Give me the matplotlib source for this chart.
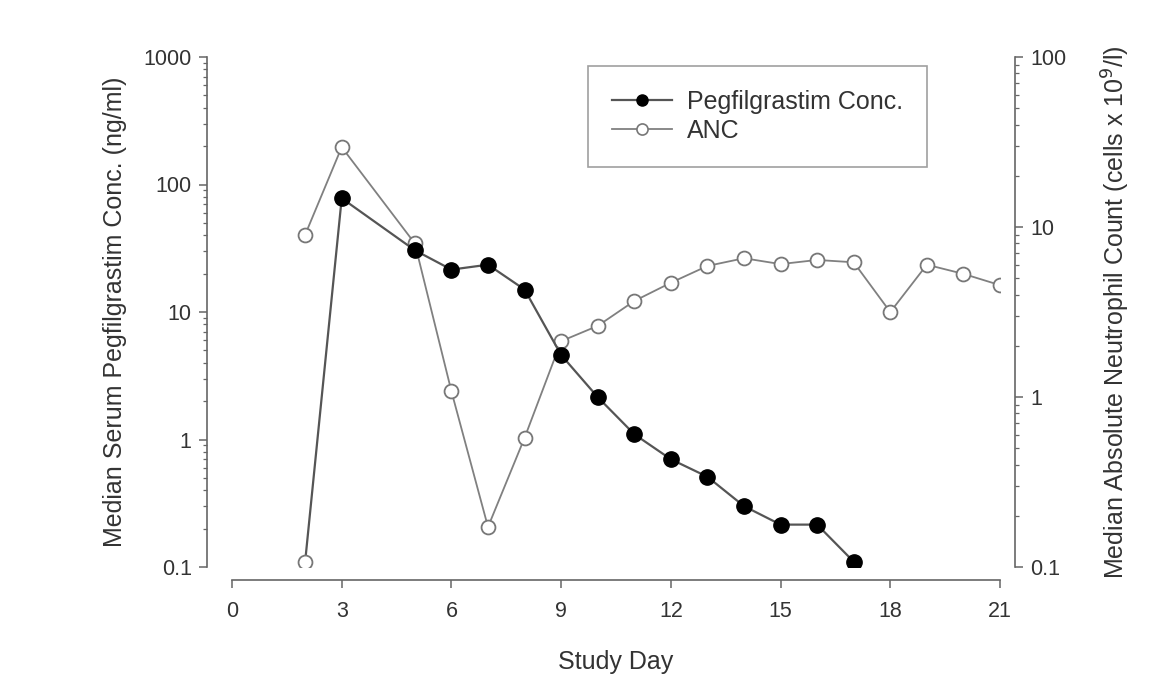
import numpy as np
import matplotlib.pyplot as plt
from matplotlib.ticker import LogLocator, NullFormatter, FixedLocator, FixedFormatter

plt.rcParams['font.family'] = ['Liberation Sans', 'DejaVu Sans']

# data
peg_days = [2, 3, 5, 6, 7, 8, 9, 10, 11, 12, 13, 14, 15, 16, 17]
peg_conc = [0.11, 78, 30.5, 21.5, 23.5, 15, 4.6, 2.15, 1.1, 0.70, 0.51, 0.30, 0.215, 0.215, 0.11]

anc_days = [2, 3, 5, 6, 7, 8, 9, 10, 11, 12, 13, 14, 15, 16, 17, 18, 19, 20, 21]
anc_vals = [9.0, 29.5, 8.0, 1.08, 0.172, 0.575, 2.13, 2.62, 3.67, 4.7, 5.9, 6.55, 6.05, 6.4, 6.2, 3.16, 6.0, 5.3, 4.55]

x_ticks = [0, 3, 6, 9, 12, 15, 18, 21]
left_ticks = [0.1, 1, 10, 100, 1000]
left_labels = ['0.1', '1', '10', '100', '1000']
right_ticks = [0.1, 1, 10, 100]
right_labels = ['0.1', '1', '10', '100']

txt = '#333333'
linec = '#555555'

fig = plt.figure(figsize=(11.64, 6.88), dpi=100)
ax = fig.add_axes([232/1164, 1 - 567/688, 768/1164, 510/688])
ax2 = ax.twinx()

# ANC on right axis
ax2.plot(anc_days, anc_vals, color='#808080', lw=1.3, marker='o', ms=10,
         mfc='white', mec='#777777', mew=1.3, zorder=2)

# pegfilgrastim on left axis
ax.plot(peg_days, peg_conc, color=linec, lw=1.6, zorder=3)
ax.plot(peg_days[1:], peg_conc[1:], ls='none', marker='o', ms=11,
        mfc='black', mec='black', zorder=4)
ax.plot(peg_days[:1], peg_conc[:1], ls='none', marker='o', ms=10,
        mfc='white', mec='#777777', mew=1.3, zorder=4)

ax.set_zorder(ax2.get_zorder() + 1)
ax.patch.set_visible(False)

ax.set_xlim(0, 21)
ax.set_yscale('log')
ax.set_ylim(0.1, 1000)
ax2.set_yscale('log')
ax2.set_ylim(0.1, 100)

for a in (ax, ax2):
    a.spines['top'].set_visible(False)
ax.spines['right'].set_visible(False)
ax2.spines['left'].set_visible(False)
ax2.spines['bottom'].set_visible(False)

ax.spines['left'].set_position(('outward', 18))
ax2.spines['right'].set_position(('outward', 11))
ax.spines['bottom'].set_position(('outward', 9.5))
for s in [ax.spines['left'], ax.spines['bottom'], ax2.spines['right']]:
    s.set_color('#666666')
    s.set_linewidth(1.2)

ax.xaxis.set_major_locator(FixedLocator(x_ticks))
ax.set_xticklabels([str(t) for t in x_ticks])

ax.yaxis.set_major_locator(FixedLocator(left_ticks))
ax.yaxis.set_major_formatter(FixedFormatter(left_labels))
ax.yaxis.set_minor_locator(LogLocator(base=10, subs=np.arange(2, 10)))
ax.yaxis.set_minor_formatter(NullFormatter())

ax2.yaxis.set_major_locator(FixedLocator(right_ticks))
ax2.yaxis.set_major_formatter(FixedFormatter(right_labels))
ax2.yaxis.set_minor_locator(LogLocator(base=10, subs=np.arange(2, 10)))
ax2.yaxis.set_minor_formatter(NullFormatter())

for a in (ax, ax2):
    a.tick_params(which='major', direction='out', length=6, width=1.1,
                  color='#666666', labelsize=15.5, labelcolor=txt, pad=5)
    a.tick_params(which='minor', direction='out', length=3, width=0.9,
                  color='#666666')
ax.tick_params(axis='x', which='minor', bottom=False)
ax.tick_params(axis='x', pad=9)

ax.set_xlabel('Study Day', fontsize=18, color=txt, labelpad=20)
ax.set_ylabel('Median Serum Pegfilgrastim Conc. (ng/ml)', fontsize=18, color=txt, labelpad=12)
ax2.set_ylabel('Median Absolute Neutrophil Count (cells x 10$^9$/l)', fontsize=18,
               color=txt, labelpad=24)

h1 = plt.Line2D([], [], color=linec, lw=1.6, marker='o', ms=8, mfc='black', mec='black')
h2 = plt.Line2D([], [], color='#808080', lw=1.3, marker='o', ms=8, mfc='white',
                mec='#777777', mew=1.2)
leg = fig.legend([h1, h2], ['Pegfilgrastim Conc.', 'ANC'], loc='upper left',
                 bbox_to_anchor=(588/1164, 1 - 66/688), fontsize=18, frameon=True,
                 fancybox=False, edgecolor='#888888', borderpad=0.95, handlelength=2.4,
                 labelspacing=0.2, borderaxespad=0, handletextpad=0.6)
leg.get_frame().set_linewidth(1.2)
for t in leg.get_texts():
    t.set_color(txt)

fig.savefig('out.png', dpi=100)
